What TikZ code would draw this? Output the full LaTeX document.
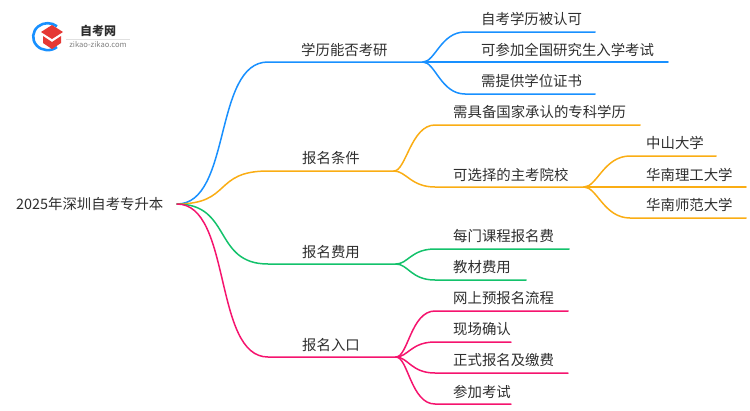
\documentclass[tikz,border=0pt]{standalone}
\usepackage{fontspec}
\setmainfont{Noto Sans CJK SC}
\definecolor{blueline}{HTML}{1890FF}
\definecolor{orangeline}{HTML}{FAAD14}
\definecolor{greenline}{HTML}{13C26B}
\definecolor{pinkline}{HTML}{F5146E}
\definecolor{labeltext}{HTML}{2E2E2E}
\definecolor{logored}{HTML}{E53935}
\tikzset{
    label/.style={font=\fontsize{14.4}{16}\selectfont, text=labeltext, inner sep=0pt, anchor=west},
    branch/.style={line width=1.5pt, line cap=round}
}
\begin{document}
\begin{tikzpicture}[x=1pt,y=-1pt]
    \useasboundingbox (0,0) rectangle (750,410);
    % logo
    \draw[blueline, line width=2.6pt] (57,47) arc (50:310:14.5 and 13.5);
    \fill[logored] (52,25) -- (63,32) -- (52,39) -- (41,32) -- cycle;
    \fill[logored] (43,36) -- (52,42) -- (61,36) -- (61,43) -- (52,49) -- (43,43) -- cycle;
    \node[font=\fontsize{12}{14}\selectfont\bfseries, text=labeltext, inner sep=0pt] (logotitle) at (98,30.5) {自考网};
    \node[font=\fontsize{7.6}{9}\selectfont, text=gray, inner sep=0pt] (logourl) at (98,45) {zikao-zikao.com};
    \draw[black!12] (66,39) -- (130,39);
    % labels
    \node[label] (root) at (16,204) {2025年深圳自考专升本};
    \node[label] (xueli) at (301,49.5) {学历能否考研};
    \node[label] (tiaojian) at (302,158.5) {报名条件};
    \node[label] (feiyong) at (302,252) {报名费用};
    \node[label] (rukou) at (302,345) {报名入口};
    \node[label] (renke) at (481,18.5) {自考学历被认可};
    \node[label] (canjia) at (481,50) {可参加全国研究生入学考试};
    \node[label] (xuewei) at (481,81) {需提供学位证书};
    \node[label] (zhuanke) at (453,112) {需具备国家承认的专科学历};
    \node[label] (yuanxiao) at (453,174.5) {可选择的主考院校};
    \node[label] (zhongshan) at (646,143) {中山大学};
    \node[label] (huali) at (646,174.5) {华南理工大学};
    \node[label] (huashi) at (646,205) {华南师范大学};
    \node[label] (kecheng) at (453,236) {每门课程报名费};
    \node[label] (jiaocai) at (453,267) {教材费用};
    \node[label] (wangshang) at (453,298.5) {网上预报名流程};
    \node[label] (xianchang) at (453,329.5) {现场确认};
    \node[label] (zhengshi) at (453,360.5) {正式报名及缴费};
    \node[label] (kaoshi) at (453,391.5) {参加考试};
    % line ends
    \coordinate (rootend) at (177,204);
    \coordinate (xueliA) at (268,62);
    \coordinate (xueliB) at (423,62);
    \coordinate (tiaojianA) at (268,171);
    \coordinate (tiaojianB) at (394,171);
    \coordinate (feiyongA) at (268,264);
    \coordinate (feiyongB) at (396,264);
    \coordinate (rukouA) at (268,357);
    \coordinate (rukouB) at (396,357);
    \coordinate (yuanxiaoA) at (435,187);
    \coordinate (yuanxiaoB) at (584,187);
    % first level
    \draw[branch, blueline] (rootend) .. controls +(55,0) and +(-55,0) .. (xueliA) -- (xueliB);
    \draw[branch, orangeline] (rootend) .. controls +(55,0) and +(-55,0) .. (tiaojianA) -- (tiaojianB);
    \draw[branch, greenline] (rootend) .. controls +(55,0) and +(-55,0) .. (feiyongA) -- (feiyongB);
    \draw[branch, pinkline] (rootend) .. controls +(55,0) and +(-55,0) .. (rukouA) -- (rukouB);
    % second level
    \draw[branch, blueline] (xueliB) .. controls +(12,0) and +(-24,0) .. (465,32) -- (595,32);
    \draw[branch, blueline] (xueliB) -- (668,62);
    \draw[branch, blueline] (xueliB) .. controls +(12,0) and +(-24,0) .. (465,94) -- (595,94);
    \draw[branch, orangeline] (tiaojianB) .. controls +(12,0) and +(-24,0) .. (435,125) -- (640,125);
    \draw[branch, orangeline] (tiaojianB) .. controls +(12,0) and +(-24,0) .. (yuanxiaoA) -- (yuanxiaoB);
    \draw[branch, orangeline] (yuanxiaoB) .. controls +(13,0) and +(-26,0) .. (630,156) -- (716,156);
    \draw[branch, orangeline] (yuanxiaoB) -- (746,187);
    \draw[branch, orangeline] (yuanxiaoB) .. controls +(13,0) and +(-26,0) .. (630,218) -- (746,218);
    \draw[branch, greenline] (feiyongB) .. controls +(12,0) and +(-24,0) .. (435,249) -- (569,249);
    \draw[branch, greenline] (feiyongB) .. controls +(12,0) and +(-24,0) .. (435,280) -- (526,280);
    \draw[branch, pinkline] (rukouB) .. controls +(12,0) and +(-24,0) .. (435,311) -- (568,311);
    \draw[branch, pinkline] (rukouB) .. controls +(12,0) and +(-24,0) .. (435,342) -- (511,342);
    \draw[branch, pinkline] (rukouB) .. controls +(12,0) and +(-24,0) .. (435,373) -- (568,373);
    \draw[branch, pinkline] (rukouB) .. controls +(12,0) and +(-24,0) .. (435,404) -- (511,404);
\end{tikzpicture}
\end{document}
